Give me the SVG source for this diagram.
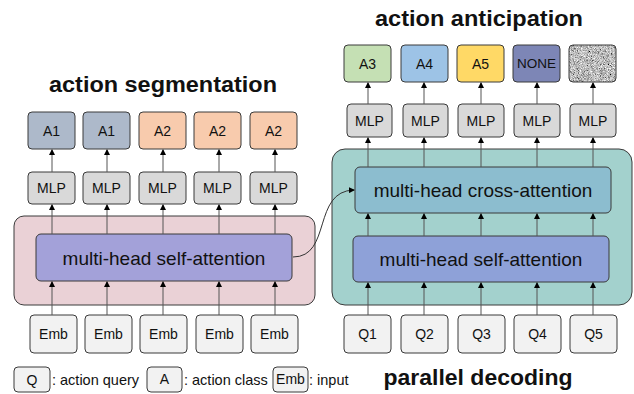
<svg xmlns="http://www.w3.org/2000/svg" width="634" height="394" viewBox="0 0 634 394">
<defs>
<marker id="ah" markerWidth="6" markerHeight="6" refX="5" refY="3" orient="auto" markerUnits="userSpaceOnUse">
<path d="M0,0 L6,3 L0,6 z" fill="#000"/>
</marker>
<filter id="noise" x="0" y="0" width="1" height="1">
<feTurbulence type="fractalNoise" baseFrequency="1.3" numOctaves="2" seed="3" result="t"/>
<feColorMatrix in="t" type="matrix" values="0.33 0.33 0.33 0 0  0.33 0.33 0.33 0 0  0.33 0.33 0.33 0 0  0 0 0 0 1" result="g"/>
<feComponentTransfer in="g" result="c">
<feFuncR type="linear" slope="2.6" intercept="-0.78"/>
<feFuncG type="linear" slope="2.6" intercept="-0.78"/>
<feFuncB type="linear" slope="2.6" intercept="-0.78"/>
</feComponentTransfer>
<feComposite in="c" in2="SourceGraphic" operator="in"/>
</filter>
</defs>
<style>
text{font-family:"Liberation Sans",Arial,sans-serif;fill:#111;}
.box{stroke:#3a3a3a;stroke-width:1;}
.lbl{font-size:14px;text-anchor:middle;dominant-baseline:central;}
.att{font-size:19px;text-anchor:middle;dominant-baseline:central;}
.ttl{font-size:22px;font-weight:bold;text-anchor:middle;}
.leg{font-size:14.5px;}
.mlp{fill:#D9D9D9;}
.inp{fill:#F2F2F2;}
.ar{stroke:#555;stroke-width:1;fill:none;marker-end:url(#ah);}
</style>
<rect width="634" height="394" fill="#fff"/>

<!-- titles -->
<text class="ttl" x="163" y="92" textLength="228" lengthAdjust="spacingAndGlyphs">action segmentation</text>
<text class="ttl" x="479" y="26" textLength="208" lengthAdjust="spacingAndGlyphs">action anticipation</text>
<text class="ttl" x="478" y="385" textLength="189" lengthAdjust="spacingAndGlyphs">parallel decoding</text>

<!-- containers -->
<g id="seg-block">
<rect class="box" x="14" y="216" width="301" height="89" rx="10" fill="#EAD1D6"/>
</g>
<g id="seg-selfattn">
<rect class="box" x="36" y="234" width="256" height="47" rx="5" fill="#A3A1D9"/>
<text class="att" x="164" y="258">multi-head self-attention</text>
</g>
<g id="dec-block">
<rect class="box" x="332" y="149" width="300" height="156" rx="13" fill="#A3D1CD"/>
</g>
<g id="dec-crossattn">
<rect class="box" x="355" y="167" width="256" height="46" rx="5" fill="#8CBDCF"/>
<text class="att" x="483" y="190">multi-head cross-attention</text>
</g>
<g id="dec-selfattn">
<rect class="box" x="353" y="236" width="256" height="46" rx="5" fill="#8EA1D8"/>
<text class="att" x="481" y="259">multi-head self-attention</text>
</g>

<!-- left outputs -->
<g id="segA1"><rect class="box" x="28" y="112" width="47" height="37" rx="4" fill="#ADB9CA"/><text class="lbl" x="51.5" y="130.5">A1</text></g>
<g id="segA2"><rect class="box" x="83" y="112" width="47" height="37" rx="4" fill="#ADB9CA"/><text class="lbl" x="106.5" y="130.5">A1</text></g>
<g id="segA3"><rect class="box" x="139" y="112" width="47" height="37" rx="4" fill="#F8CBAD"/><text class="lbl" x="162.5" y="130.5">A2</text></g>
<g id="segA4"><rect class="box" x="194" y="112" width="47" height="37" rx="4" fill="#F8CBAD"/><text class="lbl" x="217.5" y="130.5">A2</text></g>
<g id="segA5"><rect class="box" x="250" y="112" width="47" height="37" rx="4" fill="#F8CBAD"/><text class="lbl" x="273.5" y="130.5">A2</text></g>

<g id="segMLP1"><rect class="box mlp" x="28" y="172" width="47" height="32" rx="4"/><text class="lbl" x="51.5" y="188">MLP</text></g>
<g id="segMLP2"><rect class="box mlp" x="83" y="172" width="47" height="32" rx="4"/><text class="lbl" x="106.5" y="188">MLP</text></g>
<g id="segMLP3"><rect class="box mlp" x="139" y="172" width="47" height="32" rx="4"/><text class="lbl" x="162.5" y="188">MLP</text></g>
<g id="segMLP4"><rect class="box mlp" x="194" y="172" width="47" height="32" rx="4"/><text class="lbl" x="217.5" y="188">MLP</text></g>
<g id="segMLP5"><rect class="box mlp" x="250" y="172" width="47" height="32" rx="4"/><text class="lbl" x="273.5" y="188">MLP</text></g>

<g id="emb1"><rect class="box inp" x="30" y="315" width="47" height="38" rx="4"/><text class="lbl" x="53.5" y="334">Emb</text></g>
<g id="emb2"><rect class="box inp" x="85" y="315" width="47" height="38" rx="4"/><text class="lbl" x="108.5" y="334">Emb</text></g>
<g id="emb3"><rect class="box inp" x="140" y="315" width="47" height="38" rx="4"/><text class="lbl" x="163.5" y="334">Emb</text></g>
<g id="emb4"><rect class="box inp" x="196" y="315" width="47" height="38" rx="4"/><text class="lbl" x="219.5" y="334">Emb</text></g>
<g id="emb5"><rect class="box inp" x="251" y="315" width="47" height="38" rx="4"/><text class="lbl" x="274.5" y="334">Emb</text></g>

<!-- right outputs -->
<g id="antA3"><rect class="box" x="344" y="45" width="47" height="37" rx="4" fill="#C5E0B4"/><text class="lbl" x="367.5" y="63.5">A3</text></g>
<g id="antA4"><rect class="box" x="401" y="45" width="47" height="37" rx="4" fill="#9DC3E6"/><text class="lbl" x="424.5" y="63.5">A4</text></g>
<g id="antA5"><rect class="box" x="457" y="45" width="47" height="37" rx="4" fill="#FFD966"/><text class="lbl" x="480.5" y="63.5">A5</text></g>
<g id="antNONE"><rect class="box" x="513" y="45" width="47" height="37" rx="4" fill="#7D86B6"/><text class="lbl" x="536.5" y="63.5" style="font-size:13.5px">NONE</text></g>
<g id="antNoise"><rect x="569" y="45" width="47" height="37" rx="4" fill="#999" filter="url(#noise)"/><rect class="box" x="569" y="45" width="47" height="37" rx="4" fill="none"/></g>

<g id="antMLP1"><rect class="box mlp" x="347" y="104" width="45" height="33" rx="4"/><text class="lbl" x="369.5" y="120.5">MLP</text></g>
<g id="antMLP2"><rect class="box mlp" x="403" y="104" width="45" height="33" rx="4"/><text class="lbl" x="425.5" y="120.5">MLP</text></g>
<g id="antMLP3"><rect class="box mlp" x="458" y="104" width="46" height="33" rx="4"/><text class="lbl" x="481" y="120.5">MLP</text></g>
<g id="antMLP4"><rect class="box mlp" x="514" y="104" width="46" height="33" rx="4"/><text class="lbl" x="537" y="120.5">MLP</text></g>
<g id="antMLP5"><rect class="box mlp" x="570" y="104" width="46" height="33" rx="4"/><text class="lbl" x="593" y="120.5">MLP</text></g>

<g id="q1"><rect class="box inp" x="344" y="315" width="47" height="38" rx="4"/><text class="lbl" x="367.5" y="334">Q1</text></g>
<g id="q2"><rect class="box inp" x="401" y="315" width="47" height="38" rx="4"/><text class="lbl" x="424.5" y="334">Q2</text></g>
<g id="q3"><rect class="box inp" x="458" y="315" width="47" height="38" rx="4"/><text class="lbl" x="481.5" y="334">Q3</text></g>
<g id="q4"><rect class="box inp" x="514" y="315" width="47" height="38" rx="4"/><text class="lbl" x="537.5" y="334">Q4</text></g>
<g id="q5"><rect class="box inp" x="570" y="315" width="47" height="38" rx="4"/><text class="lbl" x="593.5" y="334">Q5</text></g>

<!-- connectors -->
<g id="connectors">
<path class="ar" d="M52,172 V150"/><path class="ar" d="M107,172 V150"/><path class="ar" d="M163,172 V150"/><path class="ar" d="M219,172 V150"/><path class="ar" d="M275,172 V150"/>
<path class="ar" d="M52,234 V205"/><path class="ar" d="M107,234 V205"/><path class="ar" d="M163,234 V205"/><path class="ar" d="M219,234 V205"/><path class="ar" d="M275,234 V205"/>
<path class="ar" d="M52,315 V282"/><path class="ar" d="M107,315 V282"/><path class="ar" d="M163,315 V282"/><path class="ar" d="M219,315 V282"/><path class="ar" d="M275,315 V282"/>
<path class="ar" d="M368,104 V83"/><path class="ar" d="M424,104 V83"/><path class="ar" d="M481,104 V83"/><path class="ar" d="M537,104 V83"/><path class="ar" d="M593,104 V83"/>
<path class="ar" d="M368,167 V138"/><path class="ar" d="M424,167 V138"/><path class="ar" d="M481,167 V138"/><path class="ar" d="M537,167 V138"/><path class="ar" d="M593,167 V138"/>
<path class="ar" d="M368,236 V214"/><path class="ar" d="M424,236 V214"/><path class="ar" d="M481,236 V214"/><path class="ar" d="M537,236 V214"/><path class="ar" d="M593,236 V214"/>
<path class="ar" d="M368,315 V283"/><path class="ar" d="M424,315 V283"/><path class="ar" d="M481,315 V283"/><path class="ar" d="M537,315 V283"/><path class="ar" d="M593,315 V283"/>
<path class="ar" d="M293,257 C332,257 312,191 354,190" style="stroke:#333"/>
</g>

<!-- legend -->
<g id="legend">
<rect class="box inp" x="14" y="367" width="36" height="25" rx="4"/><text class="lbl" x="32" y="379.5">Q</text>
<text class="leg" x="52" y="385">: action query</text>
<rect class="box inp" x="147" y="367" width="35" height="25" rx="4"/><text class="lbl" x="164.5" y="379">A</text>
<text class="leg" x="184" y="385">: action class</text>
<rect class="box inp" x="273" y="367" width="35" height="25" rx="4"/><text class="lbl" x="290.5" y="379">Emb</text>
<text class="leg" x="309" y="385">: input</text>
</g>
</svg>
